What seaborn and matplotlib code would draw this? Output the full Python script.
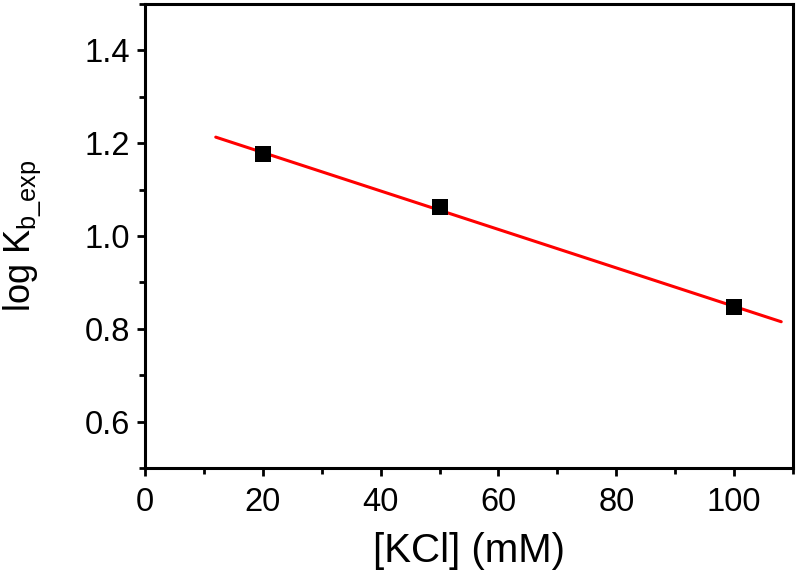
import numpy as np
import pandas as pd
import seaborn as sns
import matplotlib.pyplot as plt
from matplotlib.ticker import MultipleLocator

# data
kcl_mM = [20, 50, 100]
log_kb = [1.176, 1.062, 0.846]
fit_range = [12, 108]  # extent of the red fit line


def make_plot(df):
    sns.set_style('ticks')
    plt.rcParams['font.family'] = ['Liberation Sans', 'DejaVu Sans']
    plt.rcParams['mathtext.fontset'] = 'custom'
    plt.rcParams['mathtext.rm'] = 'Liberation Sans'
    plt.rcParams['text.color'] = 'black'
    plt.rcParams['axes.labelcolor'] = 'black'
    plt.rcParams['xtick.color'] = 'black'
    plt.rcParams['ytick.color'] = 'black'
    plt.rcParams['axes.edgecolor'] = 'black'

    fig = plt.figure(figsize=(7.97, 5.76), dpi=100)
    ax = fig.add_axes([0.182, 0.1875, 0.813, 0.8055])

    # linear fit
    slope, icpt = np.polyfit(df['kcl'], df['logkb'], 1)
    fit = pd.DataFrame({'kcl': fit_range})
    fit['logkb'] = icpt + slope * fit['kcl']
    sns.lineplot(data=fit, x='kcl', y='logkb', ax=ax, color='#ff0000', linewidth=2.2)

    sns.scatterplot(data=df, x='kcl', y='logkb', ax=ax, marker='s', s=120,
                    color='black', edgecolor='black', linewidth=0, zorder=3)

    ax.set_xlim(0, 110)
    ax.set_ylim(0.5, 1.5)
    ax.xaxis.set_major_locator(MultipleLocator(20))
    ax.xaxis.set_minor_locator(MultipleLocator(10))
    ax.yaxis.set_major_locator(MultipleLocator(0.2))
    ax.yaxis.set_minor_locator(MultipleLocator(0.1))
    ax.set_yticks([0.6, 0.8, 1.0, 1.2, 1.4])

    for s in ax.spines.values():
        s.set_linewidth(2.2)
        s.set_visible(True)
    ax.tick_params(which='major', direction='out', length=6, width=2.0, labelsize=23.5)
    ax.tick_params(which='minor', direction='out', length=4, width=2.0)
    ax.tick_params(axis='x', which='major', pad=8)
    ax.tick_params(axis='y', which='major', pad=4.5)

    ax.set_xlabel('[KCl] (mM)', fontsize=29, labelpad=10)
    ax.set_ylabel(r'log K$_{\mathregular{b\_exp}}$', fontsize=26)
    ax.yaxis.set_label_coords(-0.158, 0.5)

    fig.savefig('out.png', dpi=100)


if __name__ == '__main__':
    data = pd.DataFrame({'kcl': kcl_mM, 'logkb': log_kb})
    make_plot(data)
